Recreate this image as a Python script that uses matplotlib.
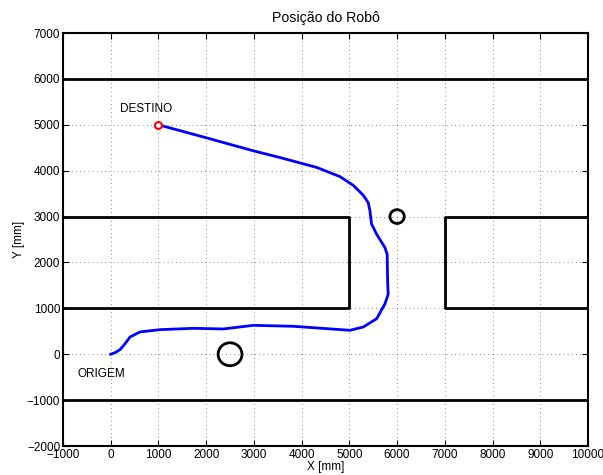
import matplotlib.pyplot as plt
import numpy as np
from matplotlib.patches import Circle

plt.rcParams['font.family'] = ['Liberation Sans', 'DejaVu Sans']
plt.rcParams['font.size'] = 8.5

# trajetoria do robo
traj_x = [0, 100, 196, 300, 405, 614, 1033, 1732, 2360, 2989, 3827, 5014, 5293,
          5573, 5747, 5813, 5805, 5799, 5792, 5743, 5569, 5465, 5430, 5396,
          5292, 5083, 4803, 4315, 3547, 3003, 2012, 1000]
traj_y = [0, 40, 101, 230, 377, 486, 536, 565, 551, 630, 609, 522, 594,
          775, 1101, 1307, 1500, 1745, 2182, 2328, 2620, 2839, 3131, 3300,
          3464, 3679, 3871, 4071, 4286, 4429, 4714, 5000]

# paredes
paredes = [
    ([-1000, 10000], [6000, 6000]),
    ([-1000, 10000], [-1000, -1000]),
    ([-1000, 5000, 5000, -1000], [3000, 3000, 1000, 1000]),
    ([10000, 7000, 7000, 10000], [3000, 3000, 1000, 1000]),
]

# obstaculos (centro x, centro y, raio)
obst_x = [6000, 2500]
obst_y = [3000, 0]
obst_r = [150, 250]

origem = (0, 0)
destino = (1000, 5000)

fig = plt.figure(figsize=(6.03, 4.75), dpi=100)
ax = fig.add_axes([0.1045, 0.061, 0.8706, 0.8695])

for px, py in paredes:
    ax.plot(px, py, color="black", linewidth=2)

for cx, cy, r in zip(obst_x, obst_y, obst_r):
    ax.add_patch(Circle((cx, cy), r, fill=False, edgecolor="black", linewidth=2))

ax.plot(traj_x, traj_y, color="blue", linewidth=2)
ax.plot(destino[0], destino[1], 'o', color="red", markerfacecolor="white",
        markersize=5, markeredgewidth=1.5)

ax.text(195, 5350, "DESTINO", va="center")
ax.text(-690, -420, "ORIGEM", va="center")

ax.set(xlim=(-1000, 10000), ylim=(-2000, 7000))
ax.set_xticks(np.arange(-1000, 10001, 1000))
ax.set_yticks(np.arange(-2000, 7001, 1000))
ax.tick_params(direction="in", top=True, right=True, length=4, width=0.8, pad=2)
ax.grid(True, linestyle=(0, (1, 4)), color="black", linewidth=0.6, alpha=0.6)
for s in ax.spines.values():
    s.set_linewidth(1.5)

ax.set_title("Posição do Robô", pad=8)
ax.set_xlabel("X [mm]", labelpad=0)
ax.set_ylabel("Y [mm]", labelpad=1)

fig.savefig("out.png", dpi=100)
